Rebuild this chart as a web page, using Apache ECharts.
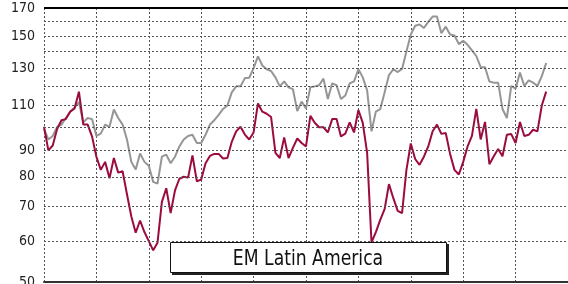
<!DOCTYPE html>
<html>
<head>
<meta charset="utf-8">
<script src="https://cdn.jsdelivr.net/npm/echarts@6/dist/echarts.min.js"></script>
<style>
  html, body { margin: 0; padding: 0; background: #fff; }
  #chart { width: 568px; height: 284px; }
</style>
</head>
<body>
<div id="chart"></div>
<script>
// monthly index values (log scale 50..170)
const redSeries = [
  100, 90, 92, 99, 103, 103.5, 107, 108.5, 117, 101, 101, 95.8,
  87.5, 82.5, 85.5, 79.5, 87, 81.5, 82, 74, 67, 62.3, 65.8, 62.5,
  60, 57.6, 59.6, 71.5, 76, 68, 75.3, 79.3, 80, 79.7, 88, 78.4,
  79, 85, 87.8, 88.6, 88.6, 86.8, 87, 93.5, 98, 100, 96.6, 94.5,
  97.5, 111, 107, 106, 104.5, 89, 87, 95.4, 87, 91, 94.9, 93,
  91.6, 105, 101.8, 99.8, 99.8, 97.5, 103.5, 103.5, 95.8, 97, 102, 97.5,
  107.8, 101.8, 89, 59.7, 62.5, 66, 69.2, 77.4, 72.7, 68.7, 68, 82.5,
  92.8, 86.6, 84.4, 87.5, 91.6, 98, 101, 96.9, 97.3, 88.6, 82.5, 80.8,
  85.5, 91.6, 96, 108.3, 94.5, 102.2, 84.6, 87.7, 90.6, 87.7, 96.5, 96.8,
  93, 102.2, 96, 96.5, 98.7, 98, 110, 117
];
const graySeries = [
  99, 94.5, 96, 100, 101, 104, 107, 109, 111.6, 102, 104, 103.5,
  96, 97, 101, 100, 108, 104, 101, 94.5, 85.5, 82.6, 88.8, 85.5,
  84, 78.2, 77.6, 87.5, 88.3, 85, 87.5, 91.6, 94.5, 96, 96.5, 93,
  93, 96.5, 101, 103, 105.5, 108.3, 110, 116.6, 119.8, 119.8, 124.3, 124.5,
  130, 137, 131.5, 129.3, 128.3, 124.7, 119.8, 122.5, 119.3, 118.3, 107.3, 111.9,
  108.6, 119.3, 119.8, 120.4, 124, 113.2, 121.4, 120.4, 113.2, 115, 121.4, 122.5,
  129.3, 124.7, 117.7, 98, 107, 108.2, 116.6, 126, 129.3, 127.7, 129.5, 140,
  151, 157, 157.9, 155.5, 159.8, 163.6, 163.6, 151.9, 156.4, 151, 150.3, 144.7,
  146.8, 144.2, 140.7, 137.2, 130.5, 130.5, 122.4, 121.8, 121.8, 108.3, 104, 120,
  118.6, 127.4, 120, 123, 121.8, 120, 125.4, 133
];
const gridValues = [60, 70, 80, 90, 100, 110, 120, 130, 140, 150, 160];
const tickLabels = [50, 60, 70, 80, 90, 110, 130, 150, 170];
const title = 'EM Latin America';

const FONT = '"DejaVu Sans Condensed", "Liberation Sans Narrow", sans-serif';
const RED = '#9B0B3F';
const GRAY = '#959595';

const pairs = arr => arr.map((v, i) => [i, v]);

const markLines = gridValues.map(v => ({ yAxis: v }))
  .concat([{ yAxis: 170, lineStyle: { type: 'solid', color: '#000', width: 2 } }])
  .concat([{ yAxis: 50, lineStyle: { color: 'rgba(0,0,0,0)', width: 0 } }]);

const chart = echarts.init(document.getElementById('chart'), null, { renderer: 'canvas' });
chart.setOption({
  animation: false,
  grid: { left: 44, top: 8, width: 529, height: 274 },
  xAxis: [{
    type: 'value', min: 0, max: 120, interval: 12,
    axisLine: { show: true, onZero: false, lineStyle: { color: '#333', width: 2 } },
    axisTick: { show: false },
    axisLabel: { show: false },
    splitLine: { show: true, lineStyle: { type: [2, 2], color: '#555', width: 1 } }
  }],
  yAxis: {
    type: 'log', logBase: 10, min: 50, max: 170,
    axisLine: { show: false }, axisTick: { show: false },
    axisLabel: { show: false }, splitLine: { show: false }
  },
  series: [
    {
      type: 'line', data: [], z: 1, silent: true,
      markLine: {
        silent: true, symbol: 'none', animation: false,
        lineStyle: { type: [2, 2], color: '#555', width: 1 },
        label: {
          position: 'start', distance: 9, color: '#222',
          fontFamily: FONT, fontSize: 14,
          formatter: p => tickLabels.includes(p.value) ? String(p.value) : ''
        },
        emphasis: { disabled: true },
        data: markLines
      }
    },
    {
      name: 'gray', type: 'line', data: pairs(graySeries), z: 3,
      showSymbol: false, lineStyle: { color: GRAY, width: 2 }
    },
    {
      name: 'red', type: 'line', data: pairs(redSeries), z: 4,
      showSymbol: false, lineStyle: { color: RED, width: 2 }
    }
  ],
  graphic: [
    { type: 'rect', z: 100, shape: { x: 172, y: 244, width: 277, height: 31 }, style: { fill: '#222' } },
    { type: 'rect', z: 101, shape: { x: 170.5, y: 242.5, width: 276, height: 30 }, style: { fill: '#fff', stroke: '#111', lineWidth: 1 } },
    {
      type: 'text', z: 102, x: 308, y: 259, scaleX: 0.87,
      style: { text: title, fontFamily: FONT, fontSize: 22, fill: '#111', align: 'center', verticalAlign: 'middle' }
    }
  ]
});
window.addEventListener('resize', () => chart.resize());
</script>
</body>
</html>
